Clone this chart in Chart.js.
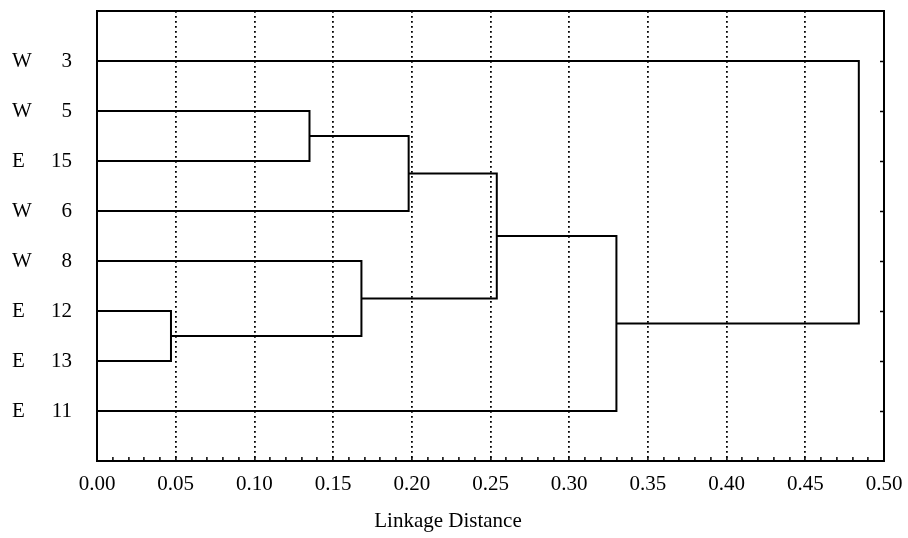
<!DOCTYPE html>
<html>
<head>
<meta charset="utf-8">
<script src="https://cdn.jsdelivr.net/npm/chart.js@4"></script>
<style>
  html, body { margin: 0; padding: 0; background: #fff; }
</style>
</head>
<body>
<canvas id="dendro" width="908" height="538"></canvas>
<script>
// leaves from top to bottom
const leafGroups = ['W', 'W', 'E', 'W', 'W', 'E', 'E', 'E']
const leafNumbers = ['3', '5', '15', '6', '8', '12', '13', '11']

// joins in order; index >= 8 means the cluster made by join (index - 8)
const joinLeft = [5, 1, 4, 9, 11, 12, 0]
const joinRight = [6, 2, 8, 3, 10, 7, 13]
const joinDist = [0.047, 0.135, 0.168, 0.198, 0.254, 0.330, 0.484]

const distTicks = [0.00, 0.05, 0.10, 0.15, 0.20, 0.25, 0.30, 0.35, 0.40, 0.45, 0.50]

// every node keeps its row (y) and the distance it was formed at (x)
const nodeRow = leafGroups.map((g, i) => i)
const nodeDist = leafGroups.map(() => 0)

const links = []
joinLeft.forEach((a, k) => {
    const b = joinRight[k]
    const h = joinDist[k]
    links.push([
        { x: nodeDist[a], y: nodeRow[a] },
        { x: h, y: nodeRow[a] },
        { x: h, y: nodeRow[b] },
        { x: nodeDist[b], y: nodeRow[b] }
    ])
    nodeRow.push((nodeRow[a] + nodeRow[b]) / 2)
    nodeDist.push(h)
})

Chart.defaults.font.family = "'Liberation Serif', 'Times New Roman', serif"
Chart.defaults.font.size = 21
Chart.defaults.color = '#000'

const rowRange = { min: -1, max: 8, reverse: true }
const inRows = v => v >= 0 && v < leafNumbers.length

// fixed axis sizes, and no extra room for labels hanging over the ends
function fixSize(w, h) {
    return s => {
        if (w !== null) s.width = w
        if (h !== null) s.height = h
        s.paddingTop = s.paddingBottom = s.paddingLeft = s.paddingRight = 0
    }
}

new Chart(document.getElementById('dendro'), {
    type: 'scatter',
    data: {
        datasets: links.map(pts => ({
            data: pts,
            showLine: true,
            borderColor: '#000',
            borderWidth: 2,
            pointRadius: 0,
            tension: 0,
            xAxisID: 'x',
            yAxisID: 'y'
        }))
    },
    options: {
        responsive: false,
        animation: false,
        layout: { padding: { top: 11, right: 24, left: 12, bottom: 0 } },
        plugins: {
            legend: { display: false },
            tooltip: { enabled: false },
            title: {
                display: true,
                position: 'bottom',
                text: 'Linkage Distance',
                color: '#000',
                font: { size: 21, weight: 'normal' },
                padding: { top: 4, bottom: 4 }
            }
        },
        scales: {
            x: {
                type: 'linear',
                position: 'bottom',
                min: 0,
                max: 0.5,
                ticks: {
                    stepSize: 0.01,
                    autoSkip: false,
                    maxRotation: 0,
                    padding: 15,
                    callback: (v, i) => i % 5 === 0 ? distTicks[i / 5].toFixed(2) : ''
                },
                grid: {
                    color: c => (c.index % 5 === 0 && c.index > 0 && c.index < 50) ? '#000' : 'rgba(0,0,0,0)',
                    lineWidth: 1.8,
                    tickLength: -4,
                    tickColor: '#000',
                    tickWidth: 1.5,
                    tickBorderDash: []
                },
                border: { display: true, color: '#000', width: 2, dash: [1.8, 3.2] },
                afterFit: fixSize(null, 538 - 461 - 33.2)
            },
            x2: {
                type: 'linear',
                position: 'top',
                min: 0,
                max: 0.5,
                ticks: { display: false },
                grid: { drawOnChartArea: false, drawTicks: false },
                border: { display: true, color: '#000', width: 2 },
                afterFit: fixSize(null, 0)
            },
            y: {
                type: 'linear',
                position: 'left',
                weight: 0,
                ...rowRange,
                ticks: {
                    stepSize: 1,
                    padding: 25,
                    callback: v => inRows(v) ? leafNumbers[v] : ''
                },
                grid: { color: 'rgba(0,0,0,0)', drawTicks: false },
                border: { display: true, color: '#000', width: 2 },
                afterFit: fixSize(55, null)
            },
            yGroup: {
                type: 'linear',
                position: 'left',
                weight: 1,
                ...rowRange,
                ticks: {
                    stepSize: 1,
                    crossAlign: 'far',
                    callback: v => inRows(v) ? leafGroups[v] : ''
                },
                grid: { display: false, drawTicks: false },
                border: { display: false },
                afterFit: fixSize(30, null)
            },
            yRight: {
                type: 'linear',
                position: 'right',
                ...rowRange,
                ticks: { display: false, stepSize: 1 },
                grid: {
                    drawOnChartArea: false,
                    tickLength: -4,
                    tickWidth: 1.5,
                    tickColor: c => inRows(c.tick ? c.tick.value : -1) ? '#000' : 'rgba(0,0,0,0)'
                },
                border: { display: true, color: '#000', width: 2 },
                afterFit: fixSize(0, null)
            }
        }
    }
})
</script>
</body>
</html>
